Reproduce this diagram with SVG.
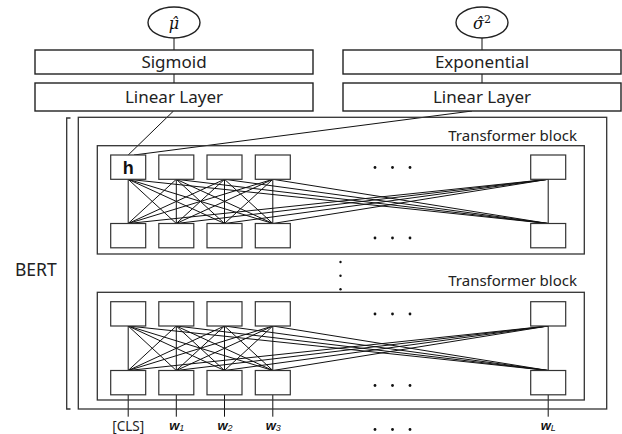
<svg xmlns="http://www.w3.org/2000/svg" width="622" height="434" viewBox="0 0 622 434">
<style>
.box{fill:#fff;stroke:#222;stroke-width:1.4}
.node{fill:#fff;stroke:#333;stroke-width:1.2}
.blk{fill:none;stroke:#333;stroke-width:1.3}
.ln{fill:none;stroke:#111;stroke-width:1}
.t{font-family:"Noto Sans","Liberation Sans",sans-serif;fill:#222}
.lbl{font-size:17px;text-anchor:middle}
.tb{font-size:15px;text-anchor:end}
.math{font-family:"DejaVu Serif","Liberation Serif",serif;font-style:italic;font-size:16px;text-anchor:middle;fill:#111}
.w{font-family:"Liberation Sans","Noto Sans",sans-serif;font-style:italic;font-weight:bold;font-size:13px;text-anchor:middle;fill:#111}
.dot{fill:#111}
</style>
<rect width="622" height="434" fill="#fff"/>

<g id="connectors">
  <path class="ln" d="M174 38V50M174 74V83M482 38V50M482 74V83"/>
  <path class="ln" d="M173.5 111L128.2 155M472 111L134 155"/>
  <path class="ln" d="M128.2 179.3L128.2 223.5M128.2 179.3L176.3 223.5M128.2 179.3L224.5 223.5M128.2 179.3L272.8 223.5M128.2 179.3L548.2 223.5M176.3 179.3L128.2 223.5M176.3 179.3L176.3 223.5M176.3 179.3L224.5 223.5M176.3 179.3L272.8 223.5M176.3 179.3L548.2 223.5M224.5 179.3L128.2 223.5M224.5 179.3L176.3 223.5M224.5 179.3L224.5 223.5M224.5 179.3L272.8 223.5M224.5 179.3L548.2 223.5M272.8 179.3L128.2 223.5M272.8 179.3L176.3 223.5M272.8 179.3L224.5 223.5M272.8 179.3L272.8 223.5M272.8 179.3L548.2 223.5M548.2 179.3L128.2 223.5M548.2 179.3L176.3 223.5M548.2 179.3L224.5 223.5M548.2 179.3L272.8 223.5M548.2 179.3L548.2 223.5"/>
  <path class="ln" d="M128.2 326L128.2 370.5M128.2 326L176.3 370.5M128.2 326L224.5 370.5M128.2 326L272.8 370.5M128.2 326L548.2 370.5M176.3 326L128.2 370.5M176.3 326L176.3 370.5M176.3 326L224.5 370.5M176.3 326L272.8 370.5M176.3 326L548.2 370.5M224.5 326L128.2 370.5M224.5 326L176.3 370.5M224.5 326L224.5 370.5M224.5 326L272.8 370.5M224.5 326L548.2 370.5M272.8 326L128.2 370.5M272.8 326L176.3 370.5M272.8 326L224.5 370.5M272.8 326L272.8 370.5M272.8 326L548.2 370.5M548.2 326L128.2 370.5M548.2 326L176.3 370.5M548.2 326L224.5 370.5M548.2 326L272.8 370.5M548.2 326L548.2 370.5"/>
  <path class="ln" d="M128.2 394.7V416.7M176.3 394.7V416.7M224.5 394.7V416.7M272.8 394.7V416.7M548.2 394.7V416.7"/>
</g>

<g id="mu">
  <ellipse class="box" cx="174" cy="22.5" rx="26" ry="15.5"/>
  <text class="math" x="174" y="29">μ̂</text>
</g>
<g id="sigma">
  <ellipse class="box" cx="482" cy="22.5" rx="26" ry="15.5"/>
  <text class="math" x="482" y="29">σ̂<tspan font-style="normal" font-size="11" dy="-6">2</tspan></text>
</g>
<g id="sigmoid">
  <rect class="box" x="35" y="50" width="278" height="24"/>
  <text class="t lbl" x="174" y="68">Sigmoid</text>
</g>
<g id="linear1">
  <rect class="box" x="35" y="83" width="278" height="28"/>
  <text class="t lbl" x="174" y="103">Linear Layer</text>
</g>
<g id="exponential">
  <rect class="box" x="343" y="50" width="278" height="24"/>
  <text class="t lbl" x="482" y="68">Exponential</text>
</g>
<g id="linear2">
  <rect class="box" x="343" y="83" width="278" height="28"/>
  <text class="t lbl" x="482" y="103">Linear Layer</text>
</g>

<g id="bert">
  <path class="blk" d="M70.5 118H66.7V409H70.5"/>
  <rect class="blk" x="78.3" y="117.3" width="528.4" height="291.7"/>
  <text class="t" x="15" y="276" font-size="17.5">BERT</text>
</g>

<g id="block1">
  <rect class="blk" x="97.3" y="145.7" width="487" height="108.3"/>
  <text class="t tb" x="577" y="141">Transformer block</text>
  <rect class="node" x="110.7" y="155" width="35" height="24.3"/>
  <text x="128.2" y="174" font-family="Liberation Sans,Arial,sans-serif" font-weight="bold" font-size="18" text-anchor="middle" fill="#111">h</text>
  <rect class="node" x="158.8" y="155" width="35" height="24.3"/>
  <rect class="node" x="207" y="155" width="35" height="24.3"/>
  <rect class="node" x="255.3" y="155" width="35" height="24.3"/>
  <rect class="node" x="530.7" y="155" width="35" height="24.3"/>
  <rect class="node" x="110.7" y="223.5" width="35" height="24.3"/>
  <rect class="node" x="158.8" y="223.5" width="35" height="24.3"/>
  <rect class="node" x="207" y="223.5" width="35" height="24.3"/>
  <rect class="node" x="255.3" y="223.5" width="35" height="24.3"/>
  <rect class="node" x="530.7" y="223.5" width="35" height="24.3"/>
  <circle class="dot" cx="375" cy="167.5" r="1.4"/><circle class="dot" cx="392.5" cy="167.5" r="1.4"/><circle class="dot" cx="410" cy="167.5" r="1.4"/>
  <circle class="dot" cx="375" cy="238" r="1.4"/><circle class="dot" cx="392.5" cy="238" r="1.4"/><circle class="dot" cx="410" cy="238" r="1.4"/>
</g>

<g id="vdots">
  <circle class="dot" cx="340.5" cy="262" r="1.2"/><circle class="dot" cx="340.5" cy="275.7" r="1.2"/><circle class="dot" cx="340.5" cy="289.3" r="1.2"/>
</g>

<g id="block2">
  <rect class="blk" x="97.3" y="292.3" width="487" height="107.7"/>
  <text class="t tb" x="577" y="285.5">Transformer block</text>
  <rect class="node" x="110.7" y="301.7" width="35" height="24.3"/>
  <rect class="node" x="158.8" y="301.7" width="35" height="24.3"/>
  <rect class="node" x="207" y="301.7" width="35" height="24.3"/>
  <rect class="node" x="255.3" y="301.7" width="35" height="24.3"/>
  <rect class="node" x="530.7" y="301.7" width="35" height="24.3"/>
  <rect class="node" x="110.7" y="370.5" width="35" height="24.3"/>
  <rect class="node" x="158.8" y="370.5" width="35" height="24.3"/>
  <rect class="node" x="207" y="370.5" width="35" height="24.3"/>
  <rect class="node" x="255.3" y="370.5" width="35" height="24.3"/>
  <rect class="node" x="530.7" y="370.5" width="35" height="24.3"/>
  <circle class="dot" cx="375" cy="314" r="1.4"/><circle class="dot" cx="392.5" cy="314" r="1.4"/><circle class="dot" cx="410" cy="314" r="1.4"/>
  <circle class="dot" cx="375" cy="385.5" r="1.4"/><circle class="dot" cx="392.5" cy="385.5" r="1.4"/><circle class="dot" cx="410" cy="385.5" r="1.4"/>
</g>

<g id="inputs">
  <text class="t" x="128.2" y="431" font-size="13.5" text-anchor="middle">[CLS]</text>
  <text class="w" x="176.7" y="430">w<tspan font-size="9" font-weight="normal" dy="1">1</tspan></text>
  <text class="w" x="225" y="430">w<tspan font-size="9" font-weight="normal" dy="1">2</tspan></text>
  <text class="w" x="273.3" y="430">w<tspan font-size="9" font-weight="normal" dy="1">3</tspan></text>
  <text class="w" x="548.3" y="430">w<tspan font-size="9" font-weight="normal" dy="1">L</tspan></text>
  <circle class="dot" cx="375" cy="429.5" r="1.4"/><circle class="dot" cx="392.5" cy="429.5" r="1.4"/><circle class="dot" cx="410" cy="429.5" r="1.4"/>
</g>
</svg>
